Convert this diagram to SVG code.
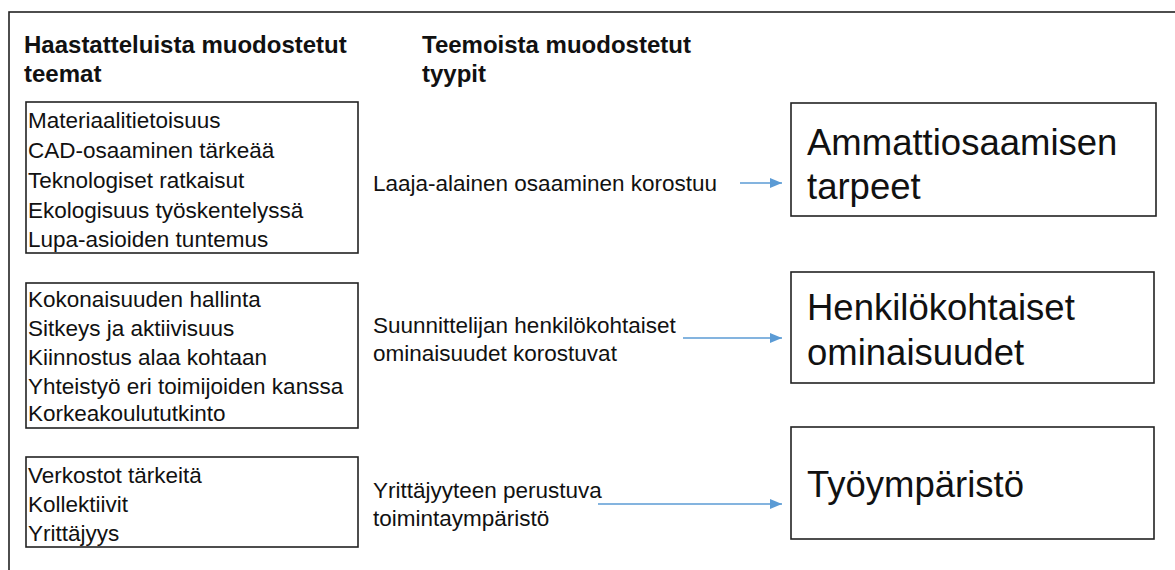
<svg xmlns="http://www.w3.org/2000/svg" width="1175" height="570" viewBox="0 0 1175 570">
<defs>
<marker id="ah" markerWidth="12" markerHeight="10" refX="12" refY="5" orient="auto" markerUnits="userSpaceOnUse">
<path d="M0,0 L12,5 L0,10 Z" fill="#5B9BD5"/>
</marker>
<style>
.frame{fill:none;stroke:#222;stroke-width:1.6}
.box{fill:#fff;stroke:#222;stroke-width:1.6}
.hd{font-family:"Liberation Sans",Arial,sans-serif;font-weight:bold;font-size:24px;fill:#111}
.t{font-family:"Liberation Sans",Arial,sans-serif;font-size:22.5px;fill:#111}
.big{font-family:"Liberation Sans",Arial,sans-serif;font-size:36.5px;fill:#111}
.conn{stroke:#5B9BD5;stroke-width:1.6;fill:none}
</style>
</defs>
<rect x="0" y="0" width="1175" height="570" fill="#fff"/>
<rect class="frame" x="9" y="12" width="1200" height="600"/>
<g id="headers">
<text class="hd" x="24" y="53">Haastatteluista muodostetut</text>
<text class="hd" x="24" y="82">teemat</text>
<text class="hd" x="422" y="53">Teemoista muodostetut</text>
<text class="hd" x="422" y="82">tyypit</text>
</g>
<g id="themes1">
<rect class="box" x="26" y="102" width="332" height="151"/>
<text class="t" x="28" y="128">Materiaalitietoisuus</text>
<text class="t" x="28" y="158">CAD-osaaminen tärkeää</text>
<text class="t" x="28" y="188">Teknologiset ratkaisut</text>
<text class="t" x="28" y="218">Ekologisuus työskentelyssä</text>
<text class="t" x="28" y="247">Lupa-asioiden tuntemus</text>
</g>
<g id="themes2">
<rect class="box" x="26" y="283" width="332" height="145"/>
<text class="t" x="28" y="307">Kokonaisuuden hallinta</text>
<text class="t" x="28" y="336">Sitkeys ja aktiivisuus</text>
<text class="t" x="28" y="365">Kiinnostus alaa kohtaan</text>
<text class="t" x="28" y="394">Yhteistyö eri toimijoiden kanssa</text>
<text class="t" x="28" y="421">Korkeakoulututkinto</text>
</g>
<g id="themes3">
<rect class="box" x="26" y="457" width="332" height="90"/>
<text class="t" x="28" y="483">Verkostot tärkeitä</text>
<text class="t" x="28" y="512">Kollektiivit</text>
<text class="t" x="28" y="541">Yrittäjyys</text>
</g>
<g id="type1">
<text class="t" x="373" y="191">Laaja-alainen osaaminen korostuu</text>
</g>
<g id="type2">
<text class="t" x="373" y="333">Suunnittelijan henkilökohtaiset</text>
<text class="t" x="373" y="361">ominaisuudet korostuvat</text>
</g>
<g id="type3">
<text class="t" x="373" y="498">Yrittäjyyteen perustuva</text>
<text class="t" x="373" y="526">toimintaympäristö</text>
</g>
<g id="result1">
<rect class="box" x="791" y="103" width="365" height="113"/>
<text class="big" x="807" y="155">Ammattiosaamisen</text>
<text class="big" x="807" y="199">tarpeet</text>
</g>
<g id="result2">
<rect class="box" x="791" y="272" width="363" height="111"/>
<text class="big" x="807" y="320">Henkilökohtaiset</text>
<text class="big" x="807" y="365">ominaisuudet</text>
</g>
<g id="result3">
<rect class="box" x="791" y="427" width="363" height="112"/>
<text class="big" x="807" y="497">Työympäristö</text>
</g>
<g id="connectors">
<line class="conn" x1="740" y1="183" x2="782" y2="183" marker-end="url(#ah)"/>
<line class="conn" x1="683" y1="338" x2="782" y2="338" marker-end="url(#ah)"/>
<line class="conn" x1="598" y1="504" x2="782" y2="504" marker-end="url(#ah)"/>
</g>
</svg>
